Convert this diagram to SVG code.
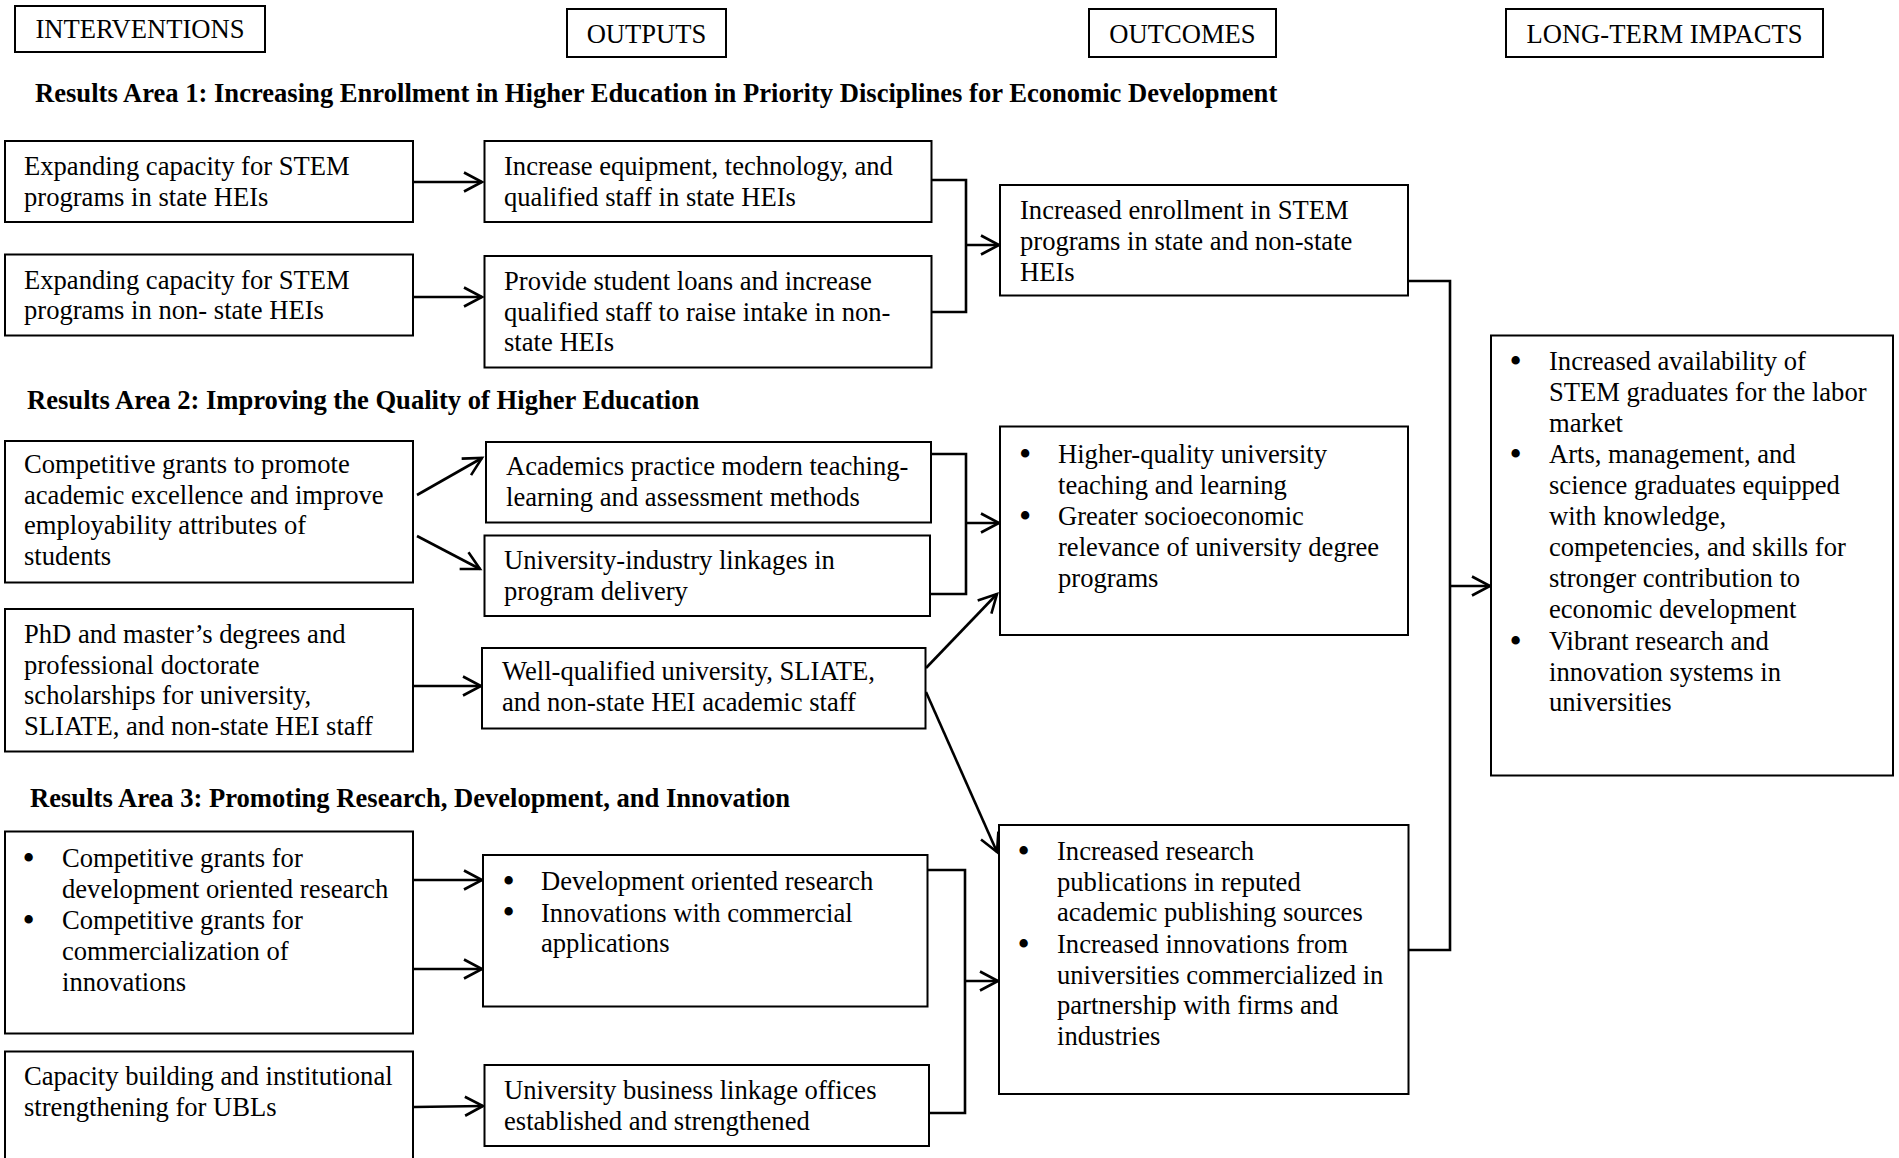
<svg xmlns="http://www.w3.org/2000/svg" width="1899" height="1158" viewBox="0 0 1899 1158">
<style>
text{font-family:"Liberation Serif","Times New Roman",serif;font-size:26.6px;fill:#000}
.h{text-anchor:middle}
.ra{font-weight:bold}
.b{font-size:35px}
.box{fill:#fff;stroke:#000;stroke-width:2}
.c{fill:none;stroke:#000;stroke-width:2.6}
.a{fill:none;stroke:#000;stroke-width:2.6;marker-end:url(#ah)}
</style>
<defs>
<marker id="ah" markerUnits="userSpaceOnUse" markerWidth="24" markerHeight="24" refX="20" refY="11" orient="auto" overflow="visible">
<path d="M2,1.5 L20,11 L2,20.5" fill="none" stroke="#000" stroke-width="2.6"/>
</marker>
</defs>
<rect width="1899" height="1158" fill="#fff"/>

<g id="headers">
<g id="h-interventions"><rect class="box" x="15" y="6" width="250" height="46"/><text class="h" x="140" y="38">INTERVENTIONS</text></g>
<g id="h-outputs"><rect class="box" x="567" y="9" width="159" height="48"/><text class="h" x="646.5" y="43">OUTPUTS</text></g>
<g id="h-outcomes"><rect class="box" x="1089" y="9" width="187" height="48"/><text class="h" x="1182.5" y="43">OUTCOMES</text></g>
<g id="h-impacts"><rect class="box" x="1506" y="9" width="317" height="48"/><text class="h" x="1664.5" y="43">LONG-TERM IMPACTS</text></g>
</g>

<g id="area-titles">
<text class="ra" x="35" y="102">Results Area 1: Increasing Enrollment in Higher Education in Priority Disciplines for Economic Development</text>
<text class="ra" x="27" y="409">Results Area 2: Improving the Quality of Higher Education</text>
<text class="ra" x="30" y="807">Results Area 3: Promoting Research, Development, and Innovation</text>
</g>

<g id="connectors">
<line class="a" x1="414" y1="182" x2="482" y2="182"/>
<line class="a" x1="414" y1="297" x2="482" y2="297"/>
<polyline class="c" points="931,180 966,180 966,312 931,312"/>
<line class="a" x1="966" y1="245" x2="999" y2="245"/>
<line class="a" x1="417" y1="495" x2="482" y2="458"/>
<line class="a" x1="417" y1="536" x2="480" y2="569"/>
<polyline class="c" points="931,454 966,454 966,594 930,594"/>
<line class="a" x1="966" y1="523" x2="999" y2="523"/>
<line class="a" x1="414" y1="686" x2="481" y2="686"/>
<line class="a" x1="926" y1="668" x2="997" y2="594"/>
<line class="a" x1="926" y1="692" x2="997" y2="852"/>
<line class="a" x1="412" y1="880" x2="482" y2="880"/>
<line class="a" x1="414" y1="969" x2="482" y2="969"/>
<line class="a" x1="414" y1="1107" x2="483" y2="1106"/>
<polyline class="c" points="928,870 965,870 965,1113 929,1113"/>
<line class="a" x1="965" y1="981" x2="998" y2="981"/>
<polyline class="c" points="1408,281 1450,281 1450,950 1408,950"/>
<line class="a" x1="1450" y1="586" x2="1490" y2="586"/>
</g>

<g id="A1"><rect class="box" x="5" y="141" width="408" height="81"/>
<text x="24" y="175">Expanding capacity for STEM</text><text x="24" y="205.7">programs in state HEIs</text></g>

<g id="B1"><rect class="box" x="484.5" y="141" width="447" height="81"/>
<text x="504" y="175">Increase equipment, technology, and</text><text x="504" y="205.5">qualified staff in state HEIs</text></g>

<g id="A2"><rect class="box" x="5" y="254.5" width="408" height="81"/>
<text x="24" y="288.5">Expanding capacity for STEM</text><text x="24" y="319">programs in non- state HEIs</text></g>

<g id="B2"><rect class="box" x="484.5" y="256" width="447" height="111.5"/>
<text x="504" y="290">Provide student loans and increase</text><text x="504" y="320.7">qualified staff to raise intake in non-</text><text x="504" y="351">state HEIs</text></g>

<g id="C1"><rect class="box" x="1000" y="185" width="408" height="110.5"/>
<text x="1020" y="219">Increased enrollment in STEM</text><text x="1020" y="250">programs in state and non-state</text><text x="1020" y="281">HEIs</text></g>

<g id="A3"><rect class="box" x="5" y="441" width="408" height="141.5"/>
<text x="24" y="473">Competitive grants to promote</text><text x="24" y="503.7">academic excellence and improve</text><text x="24" y="534.4">employability attributes of</text><text x="24" y="565">students</text></g>

<g id="B3"><rect class="box" x="486" y="442" width="445" height="80.5"/>
<text x="506" y="475">Academics practice modern teaching-</text><text x="506" y="505.5">learning and assessment methods</text></g>

<g id="B4"><rect class="box" x="484.5" y="535.5" width="445.5" height="80.5"/>
<text x="504" y="569">University-industry linkages in</text><text x="504" y="599.5">program delivery</text></g>

<g id="A4"><rect class="box" x="5" y="609" width="408" height="142.5"/>
<text x="24" y="643">PhD and master’s degrees and</text><text x="24" y="673.5">professional doctorate</text><text x="24" y="704">scholarships for university,</text><text x="24" y="734.5">SLIATE, and non-state HEI staff</text></g>

<g id="B5"><rect class="box" x="482" y="648" width="443.5" height="80.5"/>
<text x="502" y="680">Well-qualified university, SLIATE,</text><text x="502" y="710.5">and non-state HEI academic staff</text></g>

<g id="C2"><rect class="box" x="1000" y="426.5" width="408" height="208.5"/>
<text class="b" x="1019" y="465.5">•</text><text x="1058" y="463">Higher-quality university</text><text x="1058" y="493.5">teaching and learning</text>
<text class="b" x="1019" y="527.5">•</text><text x="1058" y="525">Greater socioeconomic</text><text x="1058" y="556">relevance of university degree</text><text x="1058" y="587">programs</text></g>

<g id="D"><rect class="box" x="1491" y="335.5" width="402" height="440"/>
<text class="b" x="1509.5" y="372.5">•</text><text x="1549" y="370">Increased availability of</text><text x="1549" y="401">STEM graduates for the labor</text><text x="1549" y="431.7">market</text>
<text class="b" x="1509.5" y="465.5">•</text><text x="1549" y="463">Arts, management, and</text><text x="1549" y="494">science graduates equipped</text><text x="1549" y="525">with knowledge,</text><text x="1549" y="556">competencies, and skills for</text><text x="1549" y="587">stronger contribution to</text><text x="1549" y="617.5">economic development</text>
<text class="b" x="1509.5" y="652.5">•</text><text x="1549" y="650">Vibrant research and</text><text x="1549" y="680.5">innovation systems in</text><text x="1549" y="711">universities</text></g>

<g id="A5"><rect class="box" x="5" y="831.5" width="408" height="202"/>
<text class="b" x="22.5" y="869.5">•</text><text x="62" y="867">Competitive grants for</text><text x="62" y="897.5">development oriented research</text>
<text class="b" x="22.5" y="931.5">•</text><text x="62" y="929">Competitive grants for</text><text x="62" y="960">commercialization of</text><text x="62" y="991">innovations</text></g>

<g id="B6"><rect class="box" x="483" y="855" width="444.5" height="151.5"/>
<text class="b" x="502.5" y="892.5">•</text><text x="541" y="890">Development oriented research</text>
<text class="b" x="502.5" y="924">•</text><text x="541" y="921.5">Innovations with commercial</text><text x="541" y="952">applications</text></g>

<g id="C3"><rect class="box" x="999" y="825" width="409.5" height="269"/>
<text class="b" x="1017.5" y="862.5">•</text><text x="1057" y="860">Increased research</text><text x="1057" y="890.5">publications in reputed</text><text x="1057" y="921">academic publishing sources</text>
<text class="b" x="1017.5" y="955.5">•</text><text x="1057" y="953">Increased innovations from</text><text x="1057" y="983.5">universities commercialized in</text><text x="1057" y="1014">partnership with firms and</text><text x="1057" y="1045">industries</text></g>

<g id="A6"><rect class="box" x="5" y="1051.5" width="408" height="130"/>
<text x="24" y="1085">Capacity building and institutional</text><text x="24" y="1115.5">strengthening for UBLs</text></g>

<g id="B7"><rect class="box" x="484.5" y="1065" width="444.5" height="81"/>
<text x="504" y="1099">University business linkage offices</text><text x="504" y="1129.5">established and strengthened</text></g>
</svg>
